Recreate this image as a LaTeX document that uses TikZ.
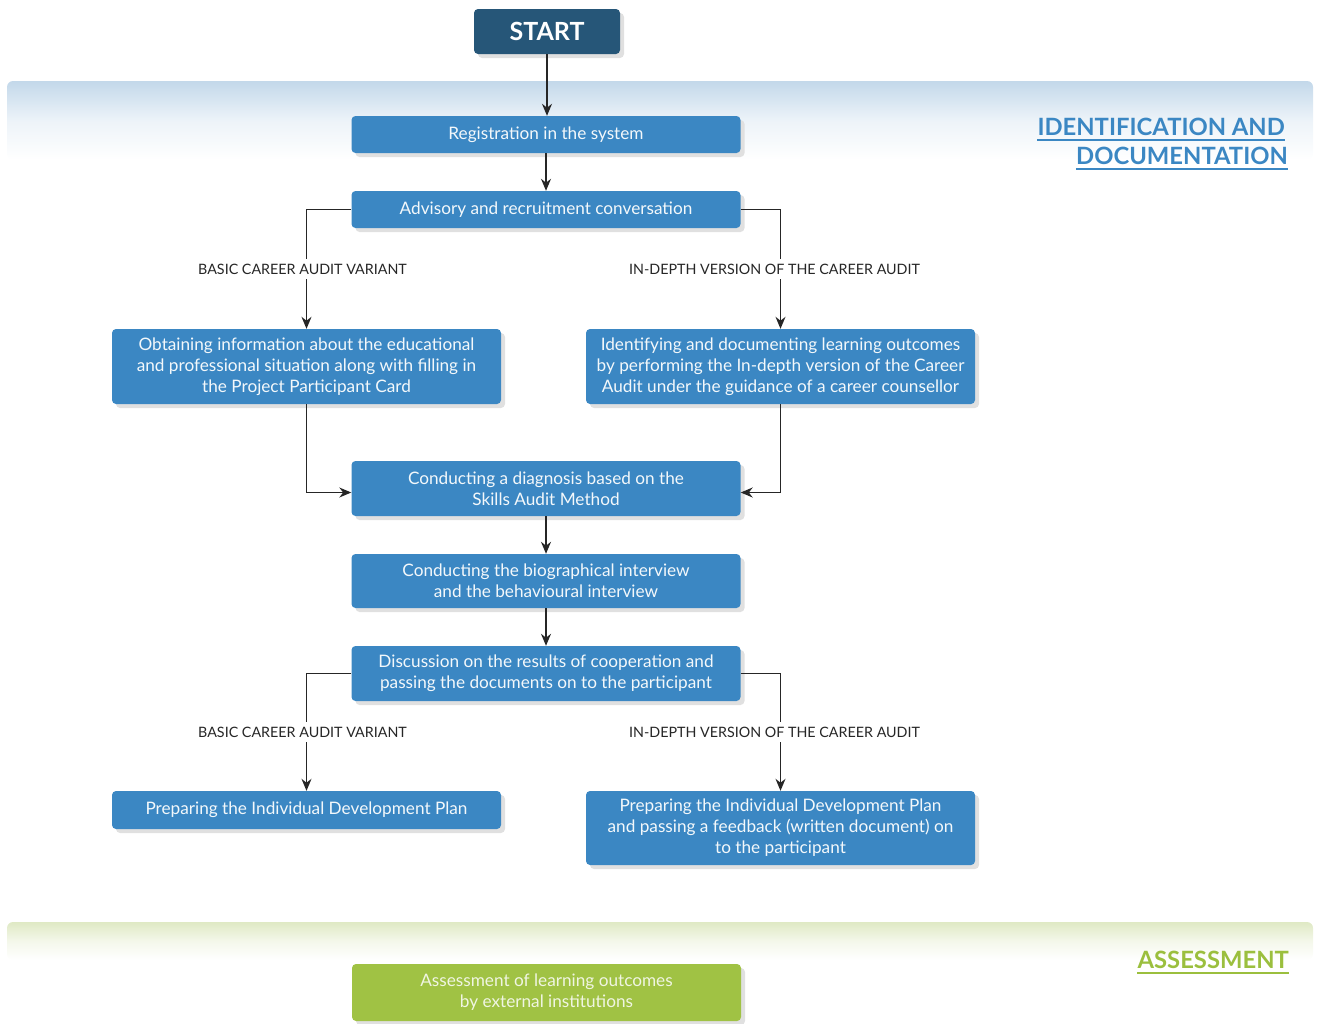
\documentclass[tikz,border=0pt]{standalone}
\usepackage{fontspec}
\setmainfont{Lato}
\usetikzlibrary{arrows.meta,shadows}
\definecolor{boxblue}{HTML}{3B87C3}
\definecolor{startblue}{HTML}{265678}
\definecolor{bandblue}{HTML}{C3D8EA}
\definecolor{boxgreen}{HTML}{A0C244}
\definecolor{headgreen}{HTML}{9BBF3E}
\definecolor{bandgreen}{HTML}{DFE9C4}
\definecolor{linegray}{HTML}{262626}
\definecolor{greentext}{HTML}{F0F5E2}
\begin{document}
\begin{tikzpicture}[x=1pt,y=-1pt,
  shad/.style={drop shadow={shadow xshift=4pt,shadow yshift=-4pt,fill=black!12,opacity=1}},
  box/.style={rectangle,rounded corners=4pt,fill=boxblue,text=white!94!boxblue,align=center,
    minimum width=389pt,inner sep=0pt,font=\fontsize{17.2}{21}\selectfont,shad},
  startbox/.style={rectangle,rounded corners=4pt,fill=startblue,text=white,
    minimum width=146pt,minimum height=45pt,inner sep=0pt,font=\fontsize{25}{30}\bfseries,shad},
  greenbox/.style={box,fill=boxgreen,text=greentext},
  lbl/.style={fill=white,inner sep=5pt,font=\fontsize{14.3}{17}\selectfont,text=black!85},
  arr/.style={draw=linegray,line width=1.4pt,-{Stealth[length=12pt,width=10pt]}},
  head/.style={font=\fontsize{23.8}{29}\bfseries\selectfont,inner sep=0pt,text depth=0pt},
  uline/.style={line width=2.2pt}
]
\useasboundingbox (0,0) rectangle (1319,1023);
% bands
\shade[top color=bandblue,bottom color=white,middle color=bandblue!30,rounded corners=6pt]
  (7,81) rectangle (1313,160);
\shade[top color=bandgreen,bottom color=white,middle color=bandgreen!35,rounded corners=6pt]
  (7,922) rectangle (1313,960);
% headings
\node[head,text=boxblue,anchor=base east] (h1) at (1285,135) {IDENTIFICATION AND};
\node[head,text=boxblue,anchor=base east] (h2) at (1288,164) {DOCUMENTATION};
\node[head,text=headgreen,anchor=base east] (h3) at (1289,968) {ASSESSMENT};
\draw[uline,boxblue] ([yshift=-5pt]h1.south west) -- ([yshift=-5pt]h1.south east);
\draw[uline,boxblue] ([yshift=-5pt]h2.south west) -- ([yshift=-5pt]h2.south east);
\draw[uline,headgreen] ([yshift=-5pt]h3.south west) -- ([yshift=-5pt]h3.south east);
% nodes
\node[startbox] (start) at (547,31.5) {START};
\node[box,minimum height=37pt] (reg) at (546,134.5) {Registration in the system};
\node[box,minimum height=37pt] (adv) at (546,209.5) {Advisory and recruitment conversation};
\node[box,minimum height=75pt] (lbox) at (306.5,366.5) {Obtaining information about the educational\\and professional situation along with filling in\\the Project Participant Card};
\node[box,minimum height=75pt] (rbox) at (780.5,366.5) {Identifying and documenting learning outcomes\\by performing the In-depth version of the Career\\Audit under the guidance of a career counsellor};
\node[box,minimum height=55pt] (diag) at (546,488.5) {Conducting a diagnosis based on the\\Skills Audit Method};
\node[box,minimum height=54pt] (bio) at (546,581) {Conducting the biographical interview\\and the behavioural interview};
\node[box,minimum height=55pt] (disc) at (546,673.5) {Discussion on the results of cooperation and\\passing the documents on to the participant};
\node[box,minimum height=38pt] (bl) at (306.5,810) {Preparing the Individual Development Plan};
\node[box,minimum height=74pt] (br) at (780.5,828) {Preparing the Individual Development Plan\\and passing a feedback (written document) on\\to the participant};
\node[greenbox,minimum height=57pt] (assess) at (546.5,992.5) {Assessment of learning outcomes\\by external institutions};
% connectors
\draw[arr] (start.south) -- (start.south |- reg.north);
\draw[arr] (reg.south) -- (adv.north);
\draw[arr] (adv.west) -| node[lbl,pos=0.75,xshift=-4pt] (l1) {BASIC CAREER AUDIT VARIANT} (lbox.north);
\draw[arr] (adv.east) -| node[lbl,pos=0.75,xshift=-6pt] (l2) {IN-DEPTH VERSION OF THE CAREER AUDIT} (rbox.north);
\draw[arr] (lbox.south) |- ([yshift=-4pt]diag.west);
\draw[arr] (rbox.south) |- ([yshift=-4pt]diag.east);
\draw[arr] (diag.south) -- (bio.north);
\draw[arr] (bio.south) -- (disc.north);
\draw[arr] (disc.west) -| node[lbl,pos=0.75,xshift=-4pt] (l3) {BASIC CAREER AUDIT VARIANT} (bl.north);
\draw[arr] (disc.east) -| node[lbl,pos=0.75,xshift=-6pt] (l4) {IN-DEPTH VERSION OF THE CAREER AUDIT} (br.north);
\end{tikzpicture}
\end{document}
